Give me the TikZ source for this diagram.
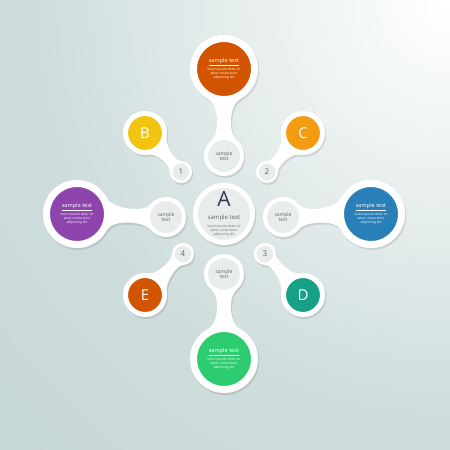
\documentclass[tikz,border=0pt]{standalone}
\usepackage{fontspec}
\setmainfont{Open Sans}
\definecolor{bgmid}{RGB}{206,220,220}
\definecolor{bgdark}{RGB}{176,203,203}
\definecolor{hubgray}{RGB}{233,236,236}
\definecolor{cnavy}{RGB}{44,62,80}
\definecolor{ctext}{RGB}{95,104,108}
\definecolor{ctop}{RGB}{211,84,0}
\definecolor{cleft}{RGB}{142,68,173}
\definecolor{cright}{RGB}{41,128,185}
\definecolor{cbottom}{RGB}{46,204,113}
\definecolor{cb}{RGB}{241,196,15}
\definecolor{cc}{RGB}{243,156,18}
\definecolor{cd}{RGB}{22,160,133}
\definecolor{ce}{RGB}{211,84,0}
\usepackage{tikz}
\usetikzlibrary{positioning, backgrounds}
\pgfdeclareradialshading{glow}{\pgfpoint{0bp}{0bp}}{color(0bp)=(white); color(8bp)=(bgmid); color(25bp)=(bgdark); color(50bp)=(bgdark)}
\newcommand{\neck}[7]{%
  \pgfmathtruncatemacro\na{#3+#4}\pgfmathtruncatemacro\nb{#3-#4}%
  \pgfmathtruncatemacro\nc{#3+180-#5}\pgfmathtruncatemacro\nd{#3-180+#5}%
  \pgfmathtruncatemacro\ta{#3+#4-90}\pgfmathtruncatemacro\tb{#3-#4+90}%
  \pgfmathtruncatemacro\tc{#3-90-#5}\pgfmathtruncatemacro\td{#3+90+#5}%
  \fill[neckfill] ([#7]#1.\na) .. controls +(\ta:#6) and +(\tc:#6) .. ([#7]#2.\nc)
    -- ([#7]#2.\nd) .. controls +(\td:#6) and +(\tb:#6) .. ([#7]#1.\nb) -- cycle;}
\newcommand{\lorem}{\fontsize{3.3}{4}\selectfont\begin{tabular}{@{}c@{}}lorem ipsum dolor sit\\amet consectetur\\adipiscing elit\end{tabular}}
\newcommand{\bigtext}{\fontsize{5.6}{6.6}\selectfont\underline{sample text}\\[0.6pt]\lorem}

\begin{document}
\begin{tikzpicture}[x=1pt, y=1pt, inner sep=0pt,
    neckfill/.style={white},
    bigball/.style={circle, draw=white, line width=7pt, minimum size=61pt, text=white, align=center},
    hub/.style={circle, draw=white, line width=5pt, fill=hubgray, minimum size=57pt, text=ctext, align=center},
    smallball/.style={circle, draw=white, line width=4pt, fill=hubgray, minimum size=36pt, text=ctext, align=center, font=\fontsize{5}{5.6}\selectfont},
    letterball/.style={circle, draw=white, line width=5pt, minimum size=39pt, text=white, font=\fontsize{15}{15}\selectfont},
    numball/.style={circle, draw=white, line width=2.5pt, fill=hubgray, minimum size=19.5pt, text=ctext, font=\fontsize{8}{8}\selectfont}]
  \useasboundingbox (0,0) rectangle (450,450);
  \node[hub] (A) at (224,236) {\fontsize{21}{21}\selectfont\textcolor{cnavy}{A}\\[0.5pt]\fontsize{6}{7}\selectfont sample text\\[0.6pt]\lorem};
  \node[bigball, fill=ctop]    (T)  [above of=A, node distance=145pt] {\bigtext};
  \node[bigball, fill=cbottom] (Bt) [below of=A, node distance=145pt] {\bigtext};
  \node[bigball, fill=cleft]   (L)  [left of=A, node distance=147pt]  {\bigtext};
  \node[bigball, fill=cright]  (R)  [right of=A, node distance=147pt] {\bigtext};
  \node[smallball] (sT) [above of=A, node distance=58pt] {sample\\text};
  \node[smallball] (sB) [below of=A, node distance=60pt] {sample\\text};
  \node[smallball] (sL) [left of=A, node distance=58pt, yshift=-3pt]  {sample\\text};
  \node[smallball] (sR) [right of=A, node distance=59pt, yshift=-3pt] {sample\\text};
  \node[letterball, fill=cb] (B) [left of=A, node distance=79pt, yshift=81pt]   {B};
  \node[letterball, fill=cc] (C) [right of=A, node distance=79pt, yshift=81pt]  {C};
  \node[letterball, fill=cd] (D) [right of=A, node distance=79pt, yshift=-81pt] {D};
  \node[letterball, fill=ce] (E) [left of=A, node distance=79pt, yshift=-81pt]  {E};
  \node[numball] (n1) [left of=A, node distance=43pt, yshift=42pt]   {1};
  \node[numball] (n2) [right of=A, node distance=43pt, yshift=42pt]  {2};
  \node[numball] (n3) [right of=A, node distance=41pt, yshift=-40pt] {3};
  \node[numball] (n4) [left of=A, node distance=41pt, yshift=-40pt]  {4};
  \begin{scope}[on background layer]
    \clip (0,0) rectangle (450,450);
    \shade[shading=glow] (445,445) circle (1300pt);
    % soft shadow under the white shapes
    \begin{scope}[transparency group, opacity=0.1, neckfill/.style={black}]
      \foreach \n/\r in {T/34, Bt/34, L/34, R/34, A/31, sT/20, sB/20, sL/20, sR/20, B/22, C/22, D/22, E/22, n1/11, n2/11, n3/11, n4/11}
        \fill[black] ([shift={(1.2,-2)}]\n.center) circle (\r);
      \neck{T}{sT}{-90}{28}{40}{12pt}{shift={(1.2,-2)}}
      \neck{Bt}{sB}{90}{28}{40}{12pt}{shift={(1.2,-2)}}
      \neck{L}{sL}{0}{28}{40}{12pt}{shift={(1.2,-2)}}
      \neck{R}{sR}{180}{28}{40}{12pt}{shift={(1.2,-2)}}
      \neck{B}{n1}{-45}{34}{45}{7pt}{shift={(1.2,-2)}}
      \neck{C}{n2}{-135}{34}{45}{7pt}{shift={(1.2,-2)}}
      \neck{D}{n3}{135}{34}{45}{7pt}{shift={(1.2,-2)}}
      \neck{E}{n4}{45}{34}{45}{7pt}{shift={(1.2,-2)}}
    \end{scope}
    \neck{T}{sT}{-90}{28}{40}{12pt}{}
    \neck{Bt}{sB}{90}{28}{40}{12pt}{}
    \neck{L}{sL}{0}{28}{40}{12pt}{}
    \neck{R}{sR}{180}{28}{40}{12pt}{}
    \neck{B}{n1}{-45}{34}{45}{7pt}{}
    \neck{C}{n2}{-135}{34}{45}{7pt}{}
    \neck{D}{n3}{135}{34}{45}{7pt}{}
    \neck{E}{n4}{45}{34}{45}{7pt}{}
  \end{scope}
\end{tikzpicture}
\end{document}
